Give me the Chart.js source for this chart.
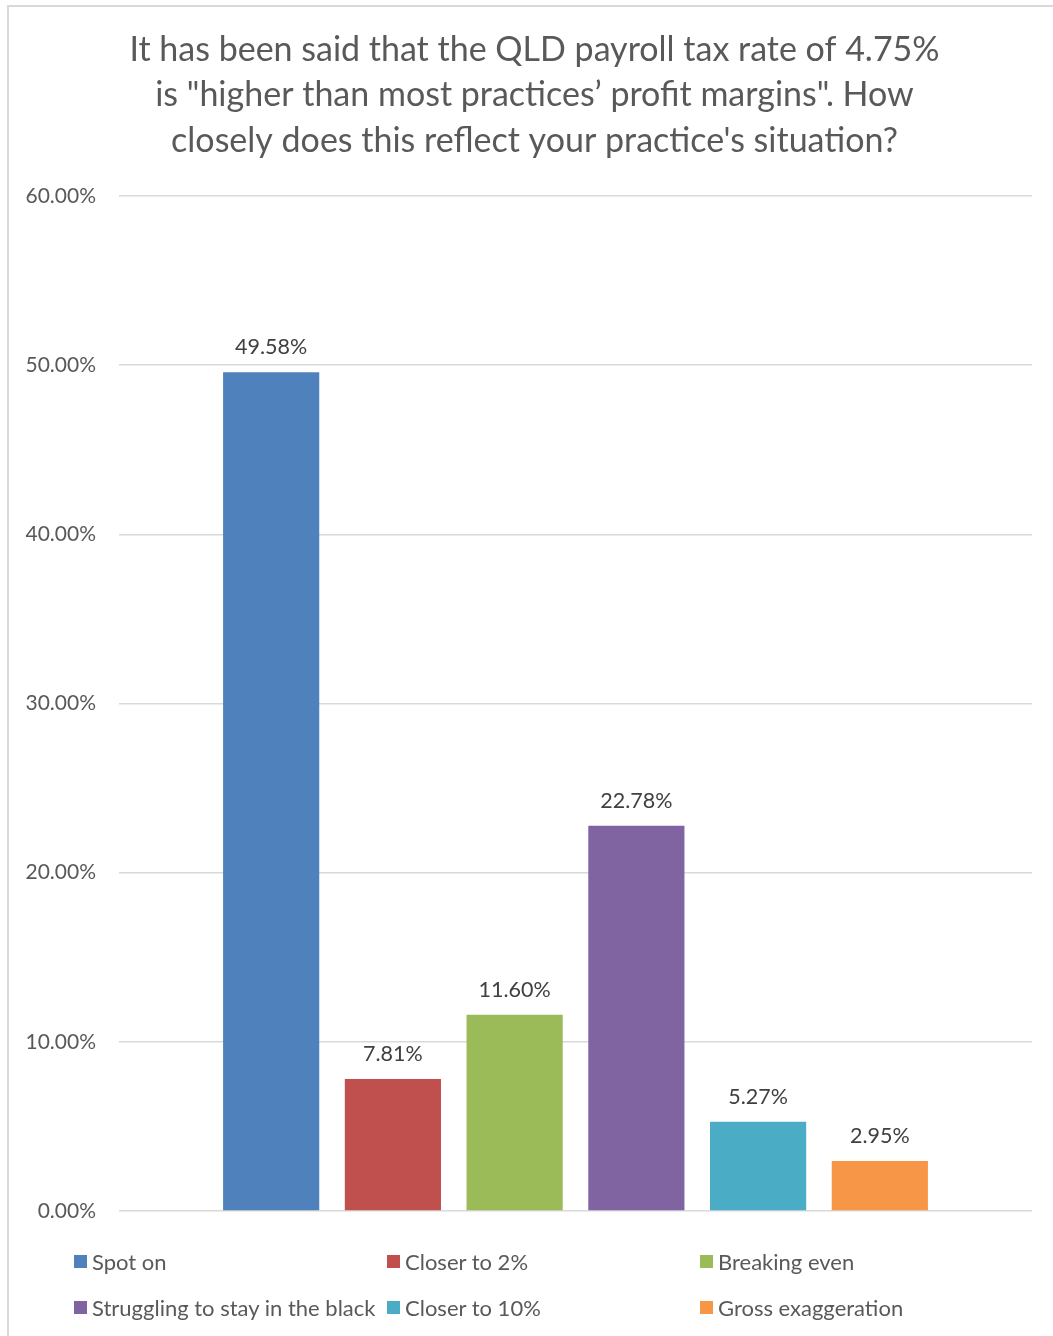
<!DOCTYPE html>
<html>
<head>
<meta charset="utf-8">
<script src="https://cdn.jsdelivr.net/npm/chart.js@4"></script>
<style>
  html, body { margin: 0; padding: 0; background: #fff; }
  #wrap { position: relative; width: 1053px; height: 1336px; overflow: hidden; }
  #frame { position: absolute; left: 7px; top: 5px; width: 1100px; height: 1400px;
           border-top: 2px solid #d9d9d9; border-left: 2px solid #d9d9d9; box-sizing: border-box; }
  canvas { position: absolute; left: 0; top: 0; }
  #legend { position: absolute; left: 0; top: 0; width: 1053px; height: 1336px; pointer-events: none;
            font-family: Lato, "Open Sans", sans-serif; font-size: 22px; color: #595959; }
  .li { position: absolute; white-space: nowrap; line-height: 26px; }
  .li .sw { position: absolute; left: 0; top: 6px; width: 13px; height: 13px; }
  .li span.t { position: absolute; left: 18px; top: 0; }
</style>
</head>
<body>
<div id="wrap">
  <div id="frame"></div>
  <canvas id="c" width="1053" height="1336"></canvas>
  <div id="legend"></div>
</div>
<script>
const titleLines = [
  'It has been said that the QLD payroll tax rate of 4.75%',
  'is "higher than most practices\u2019 profit margins". How',
  "closely does this reflect your practice's situation?"
];
const seriesNames = ['Spot on', 'Closer to 2%', 'Breaking even', 'Struggling to stay in the black', 'Closer to 10%', 'Gross exaggeration'];
const seriesValues = [49.58, 7.81, 11.60, 22.78, 5.27, 2.95];
const seriesColors = ['#4F81BD', '#C0504D', '#9BBB59', '#8064A2', '#4BACC6', '#F79646'];
const yMin = 0, yMax = 60, yStep = 10;

const FONT = 'Lato, "Open Sans", sans-serif';

const datasets = seriesNames.map((n, i) => ({
  label: n,
  data: [seriesValues[i]],
  backgroundColor: seriesColors[i],
  borderWidth: 0,
  categoryPercentage: 0.8,
  barPercentage: 0.79
}));

const valueLabels = {
  id: 'valueLabels',
  afterDatasetsDraw(chart) {
    const ctx = chart.ctx;
    ctx.save();
    ctx.font = '21.5px ' + FONT;
    ctx.fillStyle = '#404040';
    ctx.textAlign = 'center';
    ctx.textBaseline = 'middle';
    chart.data.datasets.forEach((ds, i) => {
      const meta = chart.getDatasetMeta(i);
      meta.data.forEach((bar, j) => {
        ctx.fillText(ds.data[j].toFixed(2) + '%', bar.x, bar.y - 25);
      });
    });
    ctx.restore();
  }
};

// centre the title over the same span Excel uses (slightly right of canvas centre)
const titleShift = {
  id: 'titleShift',
  afterLayout(chart) {
    const tb = chart.titleBlock;
    if (tb) { tb.left = 37; tb.right = 1032; tb.width = tb.right - tb.left; }
  }
};

const chart = new Chart(document.getElementById('c'), {
  type: 'bar',
  data: { labels: [''], datasets },
  options: {
    responsive: false,
    animation: false,
    devicePixelRatio: 1,
    layout: { padding: { left: 0, right: 21, top: 0, bottom: 125 } },
    plugins: {
      legend: { display: false },
      tooltip: { enabled: false },
      title: {
        display: true,
        text: titleLines,
        color: '#595959',
        font: { family: FONT, size: 34, weight: 'normal', lineHeight: 45.5 / 34 },
        padding: { top: 27, bottom: 32.5 }
      }
    },
    scales: {
      x: { display: false },
      y: {
        min: yMin, max: yMax,
        afterFit(scale) { scale.width = 119; },
        border: { display: false },
        grid: { color: '#d9d9d9', lineWidth: 1.5, drawTicks: false },
        ticks: {
          stepSize: yStep,
          padding: 23,
          color: '#595959',
          font: { family: FONT, size: 21 },
          callback: v => Number(v).toFixed(2) + '%'
        }
      }
    }
  },
  plugins: [valueLabels, titleShift]
});

// legend from chart datasets, Excel-like 3 equal columns
const legendEl = document.getElementById('legend');
const colX = [74, 387, 700];
const rowY = [1249, 1295];
chart.data.datasets.forEach((ds, i) => {
  const d = document.createElement('div');
  d.className = 'li';
  d.style.left = colX[i % 3] + 'px';
  d.style.top = rowY[Math.floor(i / 3)] + 'px';
  const sw = document.createElement('div');
  sw.className = 'sw';
  sw.style.background = ds.backgroundColor;
  const t = document.createElement('span');
  t.className = 't';
  t.textContent = ds.label;
  d.appendChild(sw); d.appendChild(t);
  legendEl.appendChild(d);
});
</script>
</body>
</html>
